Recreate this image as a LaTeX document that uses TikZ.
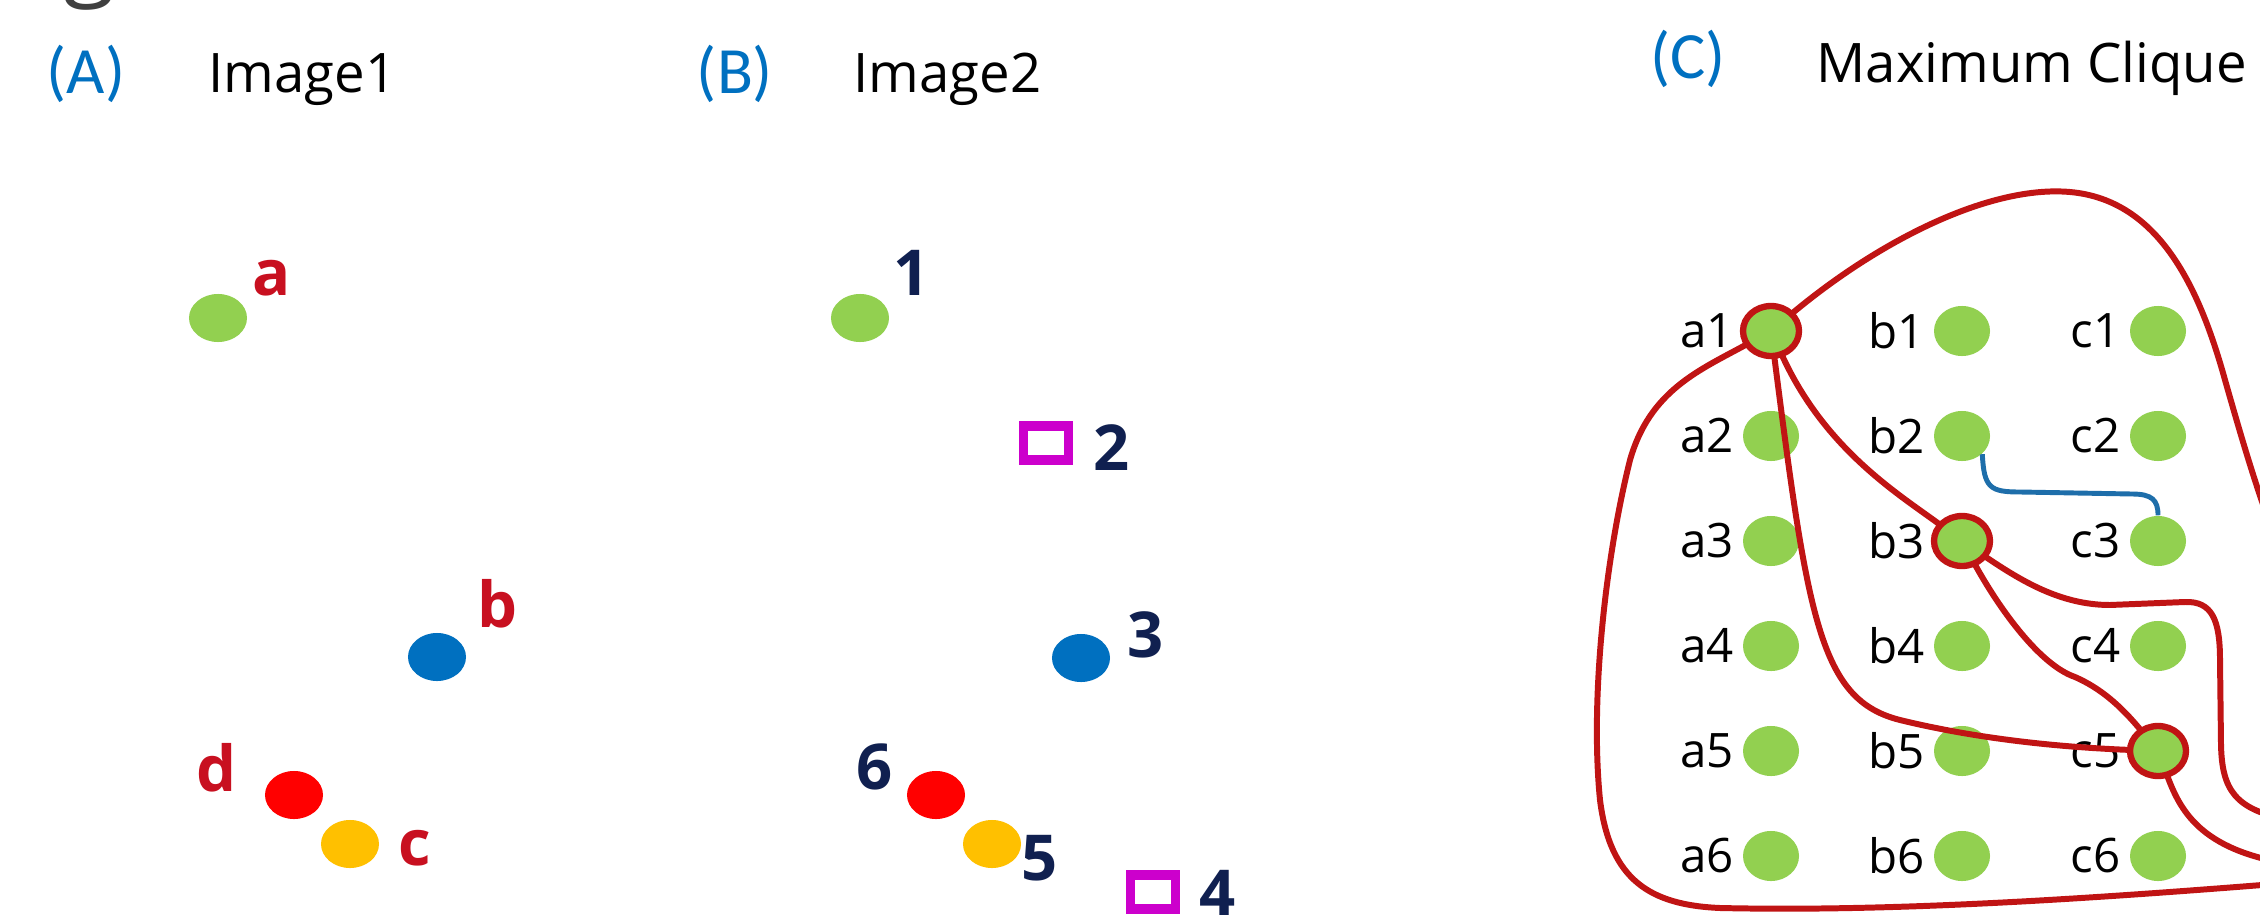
\documentclass[tikz,border=0pt]{standalone}
\usepackage{fontspec}
\setmainfont{Open Sans}
\newfontfamily\panelfont{Carlito}
\usepackage{tikz}
\usetikzlibrary{shapes.geometric}

\definecolor{dotgreen}{RGB}{146,208,80}
\definecolor{dotblue}{RGB}{0,112,192}
\definecolor{dotred}{RGB}{255,0,0}
\definecolor{dotyellow}{RGB}{255,192,0}
\definecolor{sqmagenta}{RGB}{204,0,204}
\definecolor{lblred}{RGB}{200,16,32}
\definecolor{lblnavy}{RGB}{16,32,80}
\definecolor{cliquered}{RGB}{192,20,20}
\definecolor{linkblue}{RGB}{30,110,170}
\definecolor{fraggray}{RGB}{64,64,64}

\begin{document}
\begin{tikzpicture}[x=0.01cm, y=-0.01cm,
    pt/.style={ellipse, inner sep=0pt, minimum width=0.58cm, minimum height=0.48cm},
    gdot/.style={ellipse, fill=dotgreen, inner sep=0pt,
                 minimum width=0.56cm, minimum height=0.5cm},
    sqmark/.style={draw=sqmagenta, line width=2.7pt, inner sep=0pt,
                   minimum width=0.45cm, minimum height=0.34cm},
    ltr/.style={text=lblred, font=\bfseries\fontsize{18}{20}\selectfont, inner sep=0pt},
    num/.style={text=lblnavy, font=\bfseries\fontsize{18}{20}\selectfont, inner sep=0pt},
    panel/.style={text=dotblue, font=\panelfont\fontsize{18.8}{22}\selectfont, inner sep=0pt},
    heading/.style={font=\fontsize{15.5}{18}\selectfont, inner sep=0pt, anchor=base west},
    glbl/.style={font=\fontsize{13.5}{16}\selectfont, inner sep=0pt},
    clq/.style={draw=cliquered, line width=1.7pt},
    ring/.style={draw=cliquered, line width=1.8pt},
    link/.style={draw=linkblue, line width=1.4pt},
    label distance=0.08cm,
  ]

  \fill[white, use as bounding box] (0,0) rectangle (2260,915);
  \clip (0,0) rectangle (2260,915);

  \node[anchor=south, inner sep=0pt, text=fraggray,
        font=\fontsize{27}{30}\selectfont] (gfrag) at (90,11) {g};

  % titles
  \node[panel] (tA) at (86,74) {(A)};
  \node[heading] (hA) at (208,92) {Image1};
  \node[panel] (tB) at (735,74) {(B)};
  \node[heading] (hB) at (853,92) {Image2};
  \node[panel] (tC) at (1688,59) {(C)};
  \node[heading] (hC) at (1816,82) {Maximum Clique};

  % Image1
  \node[pt, fill=dotgreen] (pa) at (218,318) {};
  \node[pt, fill=dotblue] (pb) at (437,657) {};
  \node[pt, fill=dotred] (pd) at (294,795) {};
  \node[pt, fill=dotyellow] (pc) at (350,844) {};
  \node[ltr] (la) at (272,278) {a};
  \node[ltr] (lb) at (498,604) {b};
  \node[ltr] (ld) at (217,768) {d};
  \node[ltr] (lc) at (415,848) {c};

  % Image2
  \node[pt, fill=dotgreen] (p1) at (860,318) {};
  \node[sqmark] (p2) at (1046,443) {};
  \node[pt, fill=dotblue] (p3) at (1081,658) {};
  \node[sqmark] (p4) at (1153,892) {};
  \node[pt, fill=dotyellow] (p5) at (992,844) {};
  \node[pt, fill=dotred] (p6) at (936,795) {};
  \node[num] (l1) at (912,273) {1};
  \node[num] (l2) at (1112,448) {2};
  \node[num] (l3) at (1146,635) {3};
  \node[num] (l4) at (1218,893) {4};
  \node[num] (l5) at (1040,858) {5};
  \node[num] (l6) at (875,767) {6};

  % correspondence graph
  \foreach \col/\cx in {a/1771, b/1962, c/2158}
    \foreach \r/\ry in {1/331, 2/436, 3/541, 4/646, 5/751, 6/856}
      \node[gdot, label={[glbl]left:\col\r}] (\col\r) at (\cx,\ry) {};

  \foreach \n in {a1,b3,c5}
    \draw[ring] (\n) ellipse [x radius=28, y radius=25];

  % clique boundary and its edges
  \draw[clq] (a1) .. controls (1880,240) and (1990,185) .. (2070,192)
    .. controls (2160,200) and (2200,290) .. (2225,380)
    .. controls (2245,450) and (2265,520) .. (2300,600) -- (2300,882)
    .. controls (2100,898) and (1900,912) .. (1720,908)
    .. controls (1650,905) and (1610,880) .. (1600,800)
    .. controls (1590,700) and (1605,560) .. (1630,460)
    .. controls (1650,390) and (1700,370) .. (a1);
  \draw[clq] (a1) .. controls (1808,620) and (1820,700) .. (1900,720)
    .. controls (1990,742) and (2080,748) .. (c5);
  \draw[clq] (a1) .. controls (1825,450) and (1900,495) .. (b3);
  \draw[clq] (b3) .. controls (2000,610) and (2040,665) .. (2075,677)
    .. controls (2100,688) and (2120,705) .. (c5);
  \draw[clq] (b3) .. controls (2020,580) and (2060,605) .. (2110,605) -- (2185,602)
    .. controls (2212,601) and (2220,620) .. (2220,660) -- (2221,745)
    .. controls (2222,790) and (2235,810) .. (2290,820);
  \draw[clq] (c5) .. controls (2180,810) and (2200,850) .. (2290,864);

  % b2 -- c3
  \draw[link] (b2.south east) .. controls (1984,488) and (1990,492) .. (2020,492)
    -- (2132,494) .. controls (2152,494) and (2158,500) .. (c3.north);

\end{tikzpicture}
\end{document}
